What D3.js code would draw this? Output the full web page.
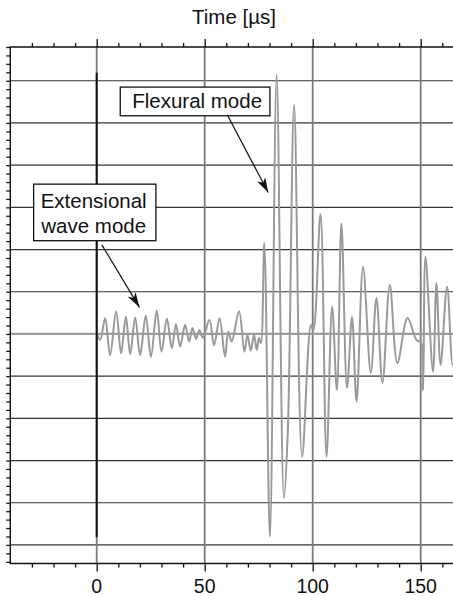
<!DOCTYPE html>
<html>
<head>
<meta charset="utf-8">
<script src="https://cdn.jsdelivr.net/npm/d3@7"></script>
<style>
  html, body { margin: 0; padding: 0; background: #fff; }
  svg { display: block; }
  text { font-family: "Liberation Sans", Arial, Helvetica, sans-serif; fill: #111; }
</style>
</head>
<body>
<div id="chart"></div>
<script>
// ---- data (time in µs, amplitude in grid units) ----
const time = [0.1, 1.6, 3.9, 6.2, 9.0, 11.3, 13.5, 15.5, 17.8, 20.1, 22.7, 25.1, 27.8, 30.0, 32.5, 34.8,
  36.7, 38.6, 40.9, 42.8, 44.3, 46.0, 47.5, 49.1, 52.2, 54.3, 56.9, 59.4, 60.9, 62.5, 65.9, 68.4,
  69.8, 71.3, 72.8, 74.1, 75.1, 76.0, 77.6, 80.2, 83.3, 86.7, 88.5, 91.4, 95.1, 99.2, 100.3, 103.6,
  106.4, 109.0, 111.2, 113.3, 115.9, 118.2, 120.3, 123.3, 126.9, 129.5, 132.3, 135.7, 139.2, 143.9,
  148.0, 150.2, 151.1, 152.2, 155.7, 157.3, 159.2, 162.2, 164.8, 167.0];
const amplitude = [0, -0.14, 0.37, -0.50, 0.53, -0.46, 0.41, -0.48, 0.39, -0.50, 0.43, -0.54, 0.55, -0.42, 0.36, -0.34,
  0.23, -0.30, 0.21, -0.18, 0.14, -0.12, 0.09, -0.09, 0.33, -0.27, 0.37, -0.54, 0.05, -0.18, 0.54, -0.42,
  -0.02, -0.40, -0.02, -0.38, -0.09, -0.22, 2.16, -4.80, 6.14, -3.89, -2.27, 5.43, -2.91, 0.21, 0.09, 2.84,
  -2.91, 0.65, -1.33, 2.62, -1.28, 0.41, -1.60, 1.59, -0.92, 0.85, -1.16, 1.16, -0.69, 0.38,
  -0.14, -0.21, -1.33, 1.83, -0.89, 1.21, -0.73, 1.12, -0.73, 0.10];

const xMajorTicks = [0, 50, 100, 150];
const xTickLabels = ["0", "50", "100", "150"];
const yGridValues = [-5, -4, -3, -2, -1, 1, 2, 3, 4, 5, 6];
const triggerLine = [6.19, -4.82];   // amplitude extent of the black t=0 marker

const titleText = "Time [µs]";
const annotationLines = [["Flexural mode"], ["Extensional", "wave mode"]];
// box corners [t0, t1, a0, a1], text anchor [t, a(first baseline)], arrow [t0, a0, t1, a1]
const annotationBoxes = [[10.9, 80.2, 5.85, 5.17], [-29.2, 27.4, 3.55, 2.21]];
const annotationText = [[46.5, 5.36], [-1.4, 2.98]];
const annotationArrows = [[60.5, 5.19, 79.4, 3.35], [2.4, 2.11, 19.8, 0.63]];

// ---- layout ----
const W = 453, H = 596;
const x = d3.scaleLinear().domain([-40, 170]).range([10.3, 10.3 + 210 * 2.16]);
const y = d3.scaleLinear().domain([-5.44, 6.8]).range([563.5, 47]);
const [x0, x1] = x.range();
const [yb, yt] = y.range();

const svg = d3.select("#chart").append("svg").attr("width", W).attr("height", H);

// grid
svg.append("g").selectAll("line").data(yGridValues).join("line")
  .attr("x1", x0).attr("x2", x1).attr("y1", d => y(d)).attr("y2", d => y(d))
  .attr("stroke", "#333").attr("stroke-width", 1.2);
svg.append("g").selectAll("line").data(xMajorTicks).join("line")
  .attr("x1", d => x(d)).attr("x2", d => x(d)).attr("y1", yt).attr("y2", yb)
  .attr("stroke", "#7a7a7a").attr("stroke-width", 1.8);

// zero baseline
svg.append("line").attr("x1", x0).attr("x2", x1).attr("y1", y(0)).attr("y2", y(0))
  .attr("stroke", "#9c9c9c").attr("stroke-width", 2.2);

// signal
const pts = time.map((t, i) => [t, amplitude[i]]);
svg.append("path").datum(pts)
  .attr("d", d3.line().x(d => x(d[0])).y(d => y(d[1])).curve(d3.curveCatmullRom.alpha(0.5)))
  .attr("fill", "none").attr("stroke", "#999").attr("stroke-width", 2).attr("stroke-linejoin", "round");

// trigger marker at t = 0
svg.append("line").attr("x1", x(0)).attr("x2", x(0)).attr("y1", y(triggerLine[0])).attr("y2", y(triggerLine[1]))
  .attr("stroke", "#111").attr("stroke-width", 2);

// frame
svg.append("path")
  .attr("d", `M${x1},${yt}H${x0}V${yb}H${x1}`)
  .attr("fill", "none").attr("stroke", "#111").attr("stroke-width", 1.4);

// ticks
const minorX = d3.range(-40, 171, 10).filter(v => !xMajorTicks.includes(v) && v > -40);
const topAxis = svg.append("g").attr("transform", `translate(0,${yt})`);
topAxis.call(d3.axisTop(x).tickValues(minorX).tickSize(4).tickFormat(""));
topAxis.append("g").call(d3.axisTop(x).tickValues(xMajorTicks).tickSize(8).tickFormat(""));
const botAxis = svg.append("g").attr("transform", `translate(0,${yb})`);
botAxis.call(d3.axisBottom(x).tickValues(minorX).tickSize(4).tickFormat(""));
botAxis.append("g").call(d3.axisBottom(x).tickValues(xMajorTicks).tickSize(8).tickFormat(""));
const minorY = d3.range(-27, 35).map(v => v * 0.2);
svg.append("g").attr("transform", `translate(${x0},0)`)
  .call(d3.axisLeft(y).tickValues(minorY).tickSize(4).tickFormat(""));
svg.selectAll(".domain").remove();
svg.selectAll(".tick line").attr("stroke", "#111").attr("stroke-width", 1.3);

// tick labels
svg.append("g").selectAll("text").data(xMajorTicks).join("text")
  .attr("x", d => x(d)).attr("y", 593).attr("text-anchor", "middle")
  .style("font-size", "19.5px").text((d, i) => xTickLabels[i]);

// title
svg.append("text").attr("x", 234).attr("y", 24).attr("text-anchor", "middle")
  .style("font-size", "20.5px").text(titleText);

// annotations
const defs = svg.append("defs");
defs.append("marker").attr("id", "ah").attr("viewBox", "0 0 15 9")
  .attr("refX", 15).attr("refY", 4.5).attr("markerWidth", 15).attr("markerHeight", 9)
  .attr("markerUnits", "userSpaceOnUse").attr("orient", "auto")
  .append("path").attr("d", "M0,0L15,4.5L0,9L4,4.5Z").attr("fill", "#111");

annotationBoxes.forEach((b, i) => {
  const g = svg.append("g");
  g.append("rect")
    .attr("x", x(b[0])).attr("y", y(b[2]))
    .attr("width", x(b[1]) - x(b[0])).attr("height", y(b[3]) - y(b[2]))
    .attr("fill", "#fff").attr("stroke", "#111").attr("stroke-width", 1.3);
  const [tx, ty] = annotationText[i];
  annotationLines[i].forEach((line, j) => {
    g.append("text").attr("x", x(tx)).attr("y", y(ty) + j * 24.4)
      .attr("text-anchor", "middle").style("font-size", "20.5px").text(line);
  });
  const a = annotationArrows[i];
  g.append("line").attr("x1", x(a[0])).attr("y1", y(a[1])).attr("x2", x(a[2])).attr("y2", y(a[3]))
    .attr("stroke", "#111").attr("stroke-width", 1.2).attr("marker-end", "url(#ah)");
});
</script>
</body>
</html>
